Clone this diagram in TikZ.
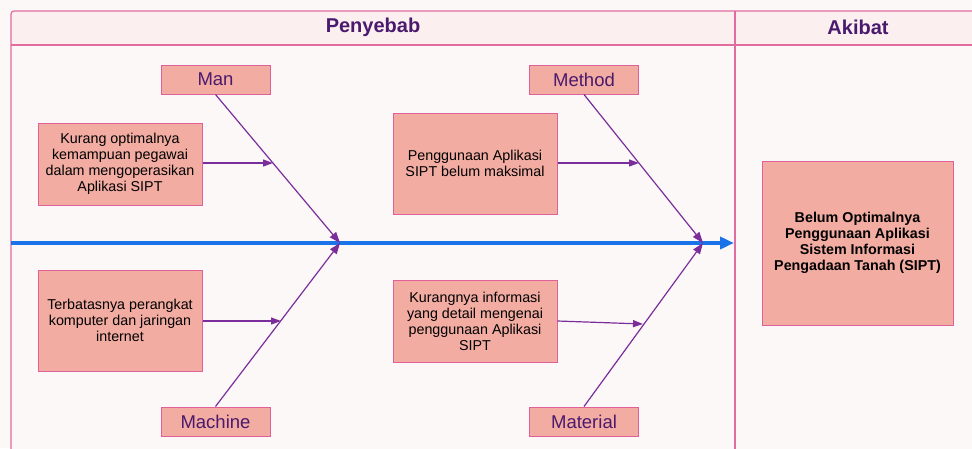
\documentclass[tikz,border=0pt]{standalone}
\usepackage{fontspec}
\setmainfont{Liberation Sans}
\usetikzlibrary{arrows.meta}
\definecolor{bgc}{HTML}{FCF8F8}
\definecolor{hdrfill}{HTML}{FCEFEF}
\definecolor{framec}{HTML}{E06CA0}
\definecolor{boxfill}{HTML}{F2ACA2}
\definecolor{boxline}{HTML}{E0609A}
\definecolor{titlec}{HTML}{4A1A6E}
\definecolor{bonec}{HTML}{7B2D9B}
\definecolor{spinec}{HTML}{1A73E8}
\tikzset{
  cat/.style={draw=boxline, fill=boxfill, line width=1pt, minimum width=109pt, minimum height=29pt, inner sep=0pt, text=titlec, font=\fontsize{18.5}{21}\selectfont},
  cause/.style={draw=boxline, fill=boxfill, line width=1pt, inner sep=0pt, align=center, text=black, font=\fontsize{14.3}{16}\selectfont},
  bone/.style={draw=bonec, line width=1.2pt, -{Triangle[length=11pt,width=8pt]}},
  sub/.style={draw=bonec, line width=1.2pt, -{Triangle[length=10pt,width=7pt]}},
  hdr/.style={text=titlec, font=\bfseries\fontsize{20}{23}\selectfont}
}
\begin{document}
\begin{tikzpicture}[x=1pt,y=-1pt]
\useasboundingbox (0,0) rectangle (972,448);
\fill[bgc] (0,0) rectangle (972,448);
% frame
\fill[bgc] (11,11) rectangle (980,460);
\fill[hdrfill, rounded corners=3pt] (11,11) rectangle (985,45);
\draw[framec, line width=1.2pt, rounded corners=3pt] (11,460) -- (11,11) -- (985,11);
\draw[framec, line width=1.2pt] (11,45) -- (985,45);
\draw[framec, line width=1.2pt] (735,11) -- (735,460);
\node[hdr] (penyebab) at (373,27) {Penyebab};
\node[hdr] (akibat) at (858,27) {Akibat};
% spine
\coordinate (spineS) at (11,243);
\coordinate (spineE) at (734,243);
\draw[spinec, line width=3.5pt, -{Triangle[length=14pt,width=12pt]}] (spineS) -- (spineE);
% category boxes
\node[cat] (man) at (215.5,79.5) {Man};
\node[cat] (method) at (584,79.5) {Method};
\node[cat] (machine) at (215.5,421.5) {Machine};
\node[cat] (material) at (584,421.5) {Material};
% heads on spine
\coordinate (hL) at (340,243);
\coordinate (hR) at (703,243);
\draw[bone] (man.south) -- (hL);
\draw[bone] (machine.north) -- (hL);
\draw[bone] (method.south) -- (hR);
\draw[bone] (material.north) -- (hR);
% cause boxes
\node[cause, minimum width=164pt, minimum height=82pt] (c1) at (120,164) {Kurang optimalnya\\kemampuan pegawai\\dalam mengoperasikan\\Aplikasi SIPT};
\node[cause, minimum width=164pt, minimum height=101pt] (c2) at (475,163.5) {Penggunaan Aplikasi\\SIPT belum maksimal};
\node[cause, minimum width=164pt, minimum height=101pt] (c3) at (120,320.5) {Terbatasnya perangkat\\komputer dan jaringan\\internet};
\node[cause, minimum width=164pt, minimum height=82pt] (c4) at (475,321) {Kurangnya informasi\\yang detail mengenai\\penggunaan Aplikasi\\SIPT};
% points on bones
\coordinate (p1) at (273,163);
\coordinate (p2) at (639,163);
\coordinate (p3) at (281,321);
\coordinate (p4) at (643,324);
\draw[sub] (c1.east |- p1) -- (p1);
\draw[sub] (c2.east |- p2) -- (p2);
\draw[sub] (c3.east |- p3) -- (p3);
\draw[sub] (c4.east) -- (p4);
% effect
\node[cause, minimum width=191pt, minimum height=164pt, font=\bfseries\fontsize{14.3}{16}\selectfont] (eff) at (857.5,243) {Belum Optimalnya\\Penggunaan Aplikasi\\Sistem Informasi\\Pengadaan Tanah (SIPT)};
\end{tikzpicture}
\end{document}
